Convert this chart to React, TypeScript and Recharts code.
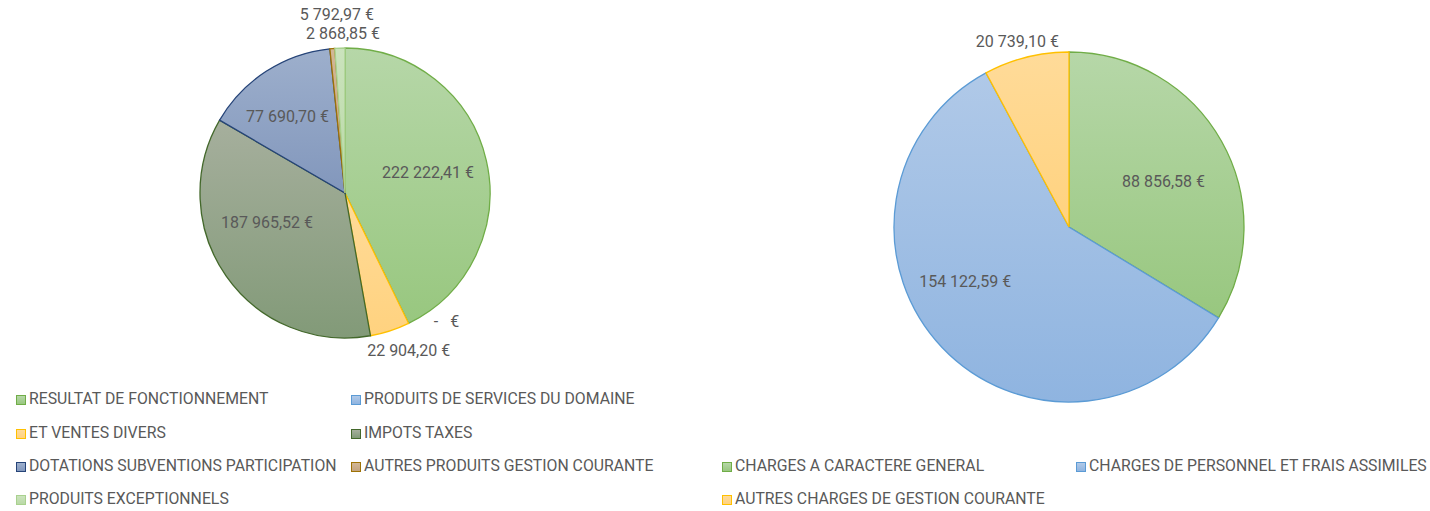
import React from "react";
import { PieChart, Pie, Cell } from "recharts";

const leftNames = [
  "RESULTAT DE FONCTIONNEMENT",
  "PRODUITS DE SERVICES DU DOMAINE",
  "ET VENTES DIVERS",
  "IMPOTS TAXES",
  "DOTATIONS SUBVENTIONS PARTICIPATION",
  "AUTRES PRODUITS GESTION COURANTE",
  "PRODUITS EXCEPTIONNELS",
];
const leftValues = [222222.41, 0, 22904.2, 187965.52, 77690.7, 2868.85, 5792.97];
const leftLabels = [
  "222 222,41 €",
  "-\u00a0\u00a0\u00a0€",
  "22 904,20 €",
  "187 965,52 €",
  "77 690,70 €",
  "2 868,85 €",
  "5 792,97 €",
];

const rightNames = [
  "CHARGES A CARACTERE GENERAL",
  "CHARGES DE PERSONNEL ET FRAIS ASSIMILES",
  "AUTRES CHARGES DE GESTION COURANTE",
];
const rightValues = [88856.58, 154122.59, 20739.1];
const rightLabels = ["88 856,58 €", "154 122,59 €", "20 739,10 €"];

// style: [top, bottom, stroke]
const leftColors = [
  ["#b6d7a8", "#98c77f", "#70ad47"],
  ["#b0c9e8", "#8fb4e0", "#5b9bd5"],
  ["#ffdb99", "#ffd27f", "#ffc000"],
  ["#a6af9d", "#829a78", "#43682b"],
  ["#9dafcc", "#8297bc", "#264478"],
  ["#d2b796", "#c4a47f", "#9e7205"],
  ["#cbe3bd", "#b9d9a6", "#a9d18e"],
];
const rightColors = [
  ["#b6d7a8", "#98c77f", "#70ad47"],
  ["#b0c9e8", "#8fb4e0", "#5b9bd5"],
  ["#ffdb99", "#ffd27f", "#ffc000"],
];

// label placement: [radius factor, angle offset]
const leftLabelPos = [
  [0.59, 1],
  [1.13, 12.3],
  [1.17, 4],
  [0.576, -14],
  [0.66, 4],
  [1.1, -4.3],
  [1.23, 0.6],
];
const rightLabelPos = [
  [0.6, -3.5],
  [0.67, -15.8],
  [1.1, 1.4],
];

const FONT = "Roboto, 'Noto Sans', sans-serif";
const TEXT = "#595959";
const RAD = Math.PI / 180;

const leftData = leftNames.map((n, i) => ({ name: n, value: leftValues[i] }));
const rightData = rightNames.map((n, i) => ({ name: n, value: rightValues[i] }));

function makeLabel(labels: string[], pos: number[][]) {
  return (p: any) => {
    const i = p.index;
    const [f, da] = pos[i];
    const a = (p.midAngle + da) * RAD;
    const r = p.outerRadius * f;
    const x = p.cx + r * Math.cos(-a);
    const y = p.cy + r * Math.sin(-a);
    return (
      <text
        key={"l" + i}
        x={x}
        y={y}
        textAnchor="middle"
        dominantBaseline="central"
        fill={TEXT}
        fontSize={16}
        fontFamily={FONT}
        style={{ whiteSpace: "pre" }}
      >
        {labels[i]}
      </text>
    );
  };
}

const legendItem = (name: string, c: string[], left: number, top: number) => (
  <div
    key={name}
    style={{
      position: "absolute",
      left,
      top,
      display: "flex",
      alignItems: "center",
      whiteSpace: "nowrap",
      fontFamily: FONT,
      fontSize: 15.8,
      lineHeight: "18px",
      color: TEXT,
    }}
  >
    <div
      style={{
        width: 8,
        height: 8,
        background: `linear-gradient(${c[0]}, ${c[1]})`,
        border: `1.5px solid ${c[2]}`,
        marginRight: 3,
        marginTop: 2,
      }}
    />
    <span>{name}</span>
  </div>
);

export default function App() {
  const leftPos = [
    [16, 390],
    [351, 390],
    [16, 424],
    [351, 424],
    [16, 457],
    [351, 457],
    [16, 490],
  ];
  const rightPos = [
    [722, 457],
    [1076, 457],
    [722, 490],
  ];
  return (
    <div
      style={{
        position: "absolute",
        left: 0,
        top: 0,
        width: 1430,
        height: 511,
        background: "#fff",
        overflow: "hidden",
      }}
    >
      <PieChart width={1430} height={511} margin={{ top: 0, right: 0, bottom: 0, left: 0 }}>
        <defs>
          {leftColors.map((c, i) => (
            <linearGradient key={"gl" + i} id={"gl" + i} x1="0" y1="0" x2="0" y2="1">
              <stop offset="0%" stopColor={c[0]} />
              <stop offset="100%" stopColor={c[1]} />
            </linearGradient>
          ))}
          {rightColors.map((c, i) => (
            <linearGradient key={"gr" + i} id={"gr" + i} x1="0" y1="0" x2="0" y2="1">
              <stop offset="0%" stopColor={c[0]} />
              <stop offset="100%" stopColor={c[1]} />
            </linearGradient>
          ))}
        </defs>
        <Pie
          data={leftData}
          dataKey="value"
          nameKey="name"
          cx={345}
          cy={193}
          outerRadius={145}
          startAngle={90}
          endAngle={-270}
          isAnimationActive={false}
          label={makeLabel(leftLabels, leftLabelPos)}
          labelLine={false}
        >
          {leftData.map((d, i) => (
            <Cell key={i} fill={`url(#gl${i})`} stroke={leftColors[i][2]} strokeWidth={1.3} />
          ))}
        </Pie>
        <Pie
          data={rightData}
          dataKey="value"
          nameKey="name"
          cx={1069}
          cy={227}
          outerRadius={175}
          startAngle={90}
          endAngle={-270}
          isAnimationActive={false}
          label={makeLabel(rightLabels, rightLabelPos)}
          labelLine={false}
        >
          {rightData.map((d, i) => (
            <Cell key={i} fill={`url(#gr${i})`} stroke={rightColors[i][2]} strokeWidth={1.3} />
          ))}
        </Pie>
      </PieChart>
      {leftNames.map((n, i) => legendItem(n, leftColors[i], leftPos[i][0], leftPos[i][1]))}
      {rightNames.map((n, i) => legendItem(n, rightColors[i], rightPos[i][0], rightPos[i][1]))}
    </div>
  );
}
